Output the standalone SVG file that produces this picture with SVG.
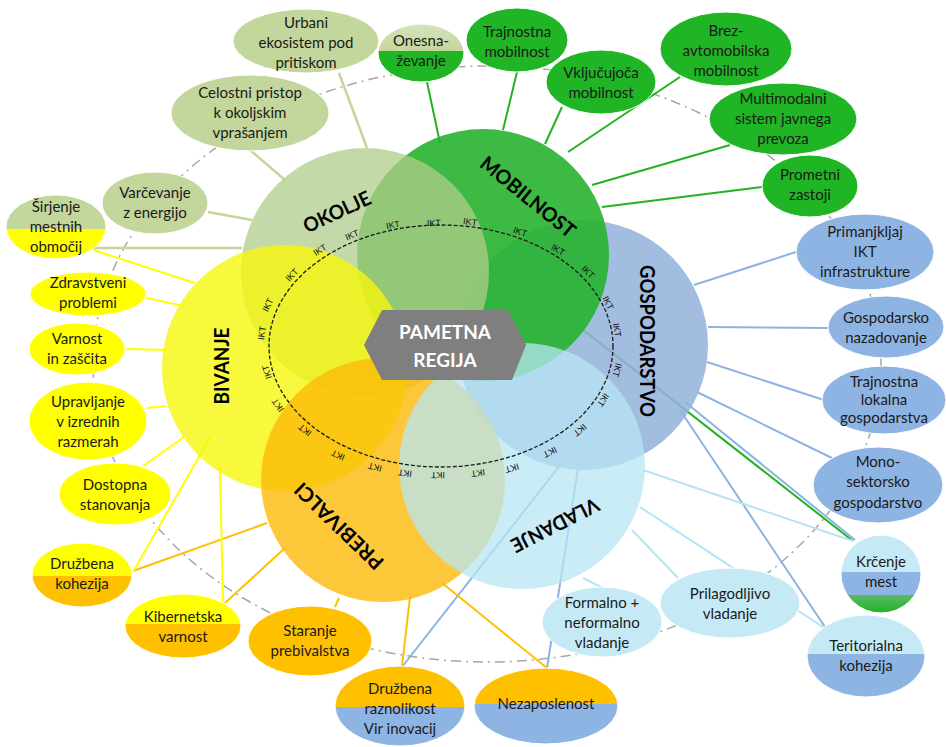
<svg xmlns="http://www.w3.org/2000/svg" width="946" height="747" viewBox="0 0 946 747">
<defs>
<style>
.nt{font-family:Lato,"Liberation Sans",sans-serif;font-size:15px;fill:#1a1a1a;text-anchor:middle}
.big{font-family:Lato,"Liberation Sans",sans-serif;font-size:20px;font-weight:bold;fill:#000;text-anchor:middle}
.ikt{font-family:"Liberation Sans",sans-serif;font-size:9px;fill:#111;text-anchor:middle}
.c-ok{stroke:#c3d69b;stroke-width:2.5;fill:none}
.c-mo{stroke:#22b222;stroke-width:2;fill:none}
.c-go{stroke:#8db3e2;stroke-width:2;fill:none}
.c-vl{stroke:#b7e4f2;stroke-width:2;fill:none}
.c-pr{stroke:#ffc000;stroke-width:2;fill:none}
.c-bi{stroke:#ffff00;stroke-width:2;fill:none}
.nd{stroke:#fff;stroke-width:1}
</style>
<linearGradient id="g-onesna" x1="0" y1="0" x2="0" y2="1"><stop offset="0" stop-color="#d6e4bd"/><stop offset="0.466" stop-color="#c3d69b"/><stop offset="0.466" stop-color="#1fb524"/><stop offset="1" stop-color="#1fb524"/></linearGradient>
<linearGradient id="g-sirjenje" x1="0" y1="0" x2="0" y2="1"><stop offset="0.53" stop-color="#c3d69b"/><stop offset="0.53" stop-color="#ffff00"/></linearGradient>
<linearGradient id="g-krcenje" x1="0" y1="0" x2="0" y2="1"><stop offset="0.474" stop-color="#c5eaf6"/><stop offset="0.474" stop-color="#8eb4e3"/><stop offset="0.77" stop-color="#8eb4e3"/><stop offset="0.77" stop-color="#5cb866"/><stop offset="1" stop-color="#1fb524"/></linearGradient>
<linearGradient id="g-terit" x1="0" y1="0" x2="0" y2="1"><stop offset="0.476" stop-color="#c5eaf6"/><stop offset="0.476" stop-color="#8eb4e3"/></linearGradient>
<linearGradient id="g-nezap" x1="0" y1="0" x2="0" y2="1"><stop offset="0.47" stop-color="#ffc000"/><stop offset="0.47" stop-color="#8eb4e3"/></linearGradient>
<linearGradient id="g-druzrazn" x1="0" y1="0" x2="0" y2="1"><stop offset="0.51" stop-color="#ffc000"/><stop offset="0.51" stop-color="#8eb4e3"/></linearGradient>
<linearGradient id="g-kiber" x1="0" y1="0" x2="0" y2="1"><stop offset="0.47" stop-color="#ffff00"/><stop offset="0.47" stop-color="#ffc000"/></linearGradient>
<linearGradient id="g-druzkoh" x1="0" y1="0" x2="0" y2="1"><stop offset="0.516" stop-color="#ffff00"/><stop offset="0.516" stop-color="#ffc000"/></linearGradient>
</defs>
<rect width="946" height="747" fill="#fff"/>
<ellipse cx="487" cy="364" rx="394" ry="298" fill="none" stroke="#a6a6a6" stroke-width="1.5" stroke-dasharray="10 5 2 5"/>
<g id="connectors">
<line class="c-ok" x1="339" y1="73" x2="367" y2="148"/>
<line class="c-ok" x1="250" y1="150" x2="285" y2="180"/>
<line class="c-ok" x1="208" y1="212" x2="252" y2="220"/>
<line class="c-ok" x1="93" y1="248" x2="242" y2="248"/>
<line class="c-mo" x1="427" y1="82" x2="440" y2="143"/>
<line class="c-mo" x1="517" y1="72" x2="503" y2="130"/>
<line class="c-mo" x1="562" y1="107" x2="545" y2="144"/>
<line class="c-mo" x1="680" y1="77" x2="568" y2="152"/>
<line class="c-mo" x1="730" y1="145" x2="592" y2="185"/>
<line class="c-mo" x1="762" y1="187" x2="602" y2="207"/>
<line class="c-mo" x1="573" y1="322" x2="853" y2="541" stroke-width="1.5"/>
<line class="c-go" x1="796" y1="252" x2="694" y2="285"/>
<line class="c-go" x1="828" y1="328" x2="708" y2="327"/>
<line class="c-go" x1="824" y1="400" x2="707" y2="362"/>
<line class="c-go" x1="832" y1="458" x2="697" y2="392"/>
<line class="c-go" x1="685" y1="402" x2="855" y2="540"/>
<line class="c-go" x1="680" y1="410" x2="825" y2="627"/>
<line class="c-go" x1="580" y1="455" x2="547" y2="668"/>
<line class="c-go" x1="568" y1="455" x2="402" y2="667"/>
<line class="c-vl" x1="643" y1="470" x2="853" y2="541"/>
<line class="c-vl" x1="640" y1="507" x2="823" y2="627"/>
<line class="c-vl" x1="632" y1="530" x2="678" y2="578"/>
<line class="c-vl" x1="583" y1="578" x2="603" y2="588"/>
<line class="c-pr" x1="442" y1="583" x2="547" y2="668"/>
<line class="c-pr" x1="410" y1="597" x2="402" y2="666"/>
<line class="c-pr" x1="339" y1="598" x2="335" y2="607"/>
<line class="c-pr" x1="285" y1="548" x2="225" y2="603"/>
<line class="c-pr" x1="267" y1="523" x2="133" y2="571"/>
<line class="c-bi" x1="93" y1="250" x2="195" y2="283"/>
<line class="c-bi" x1="146" y1="298" x2="184" y2="306"/>
<line class="c-bi" x1="125" y1="349" x2="167" y2="350"/>
<line class="c-bi" x1="147" y1="408" x2="166" y2="406"/>
<line class="c-bi" x1="143" y1="466" x2="184" y2="437"/>
<line class="c-bi" x1="211" y1="436" x2="133" y2="572"/>
<line class="c-bi" x1="220" y1="468" x2="223" y2="603"/>
</g>
<g id="gospodarstvo"><circle cx="583" cy="345" r="125" fill="#92b1d9" fill-opacity="0.85"/></g>
<g id="mobilnost"><circle cx="483" cy="255" r="126" fill="#27b22f" fill-opacity="0.9"/></g>
<g id="okolje"><circle cx="365" cy="272" r="124" fill="#b0cc8b" fill-opacity="0.75"/></g>
<g id="bivanje"><circle cx="285" cy="368" r="123" fill="#f6f60b" fill-opacity="0.8"/></g>
<g id="prebivalci"><circle cx="383" cy="480" r="122" fill="#fbba09" fill-opacity="0.8"/></g>
<g id="vladanje"><circle cx="522" cy="466" r="123" fill="#b7e6f4" fill-opacity="0.75"/></g>
<g id="big-labels">
<text class="big" transform="translate(337,212) rotate(-25)" y="7" textLength="72" lengthAdjust="spacingAndGlyphs">OKOLJE</text>
<text class="big" transform="translate(528,197) rotate(39)" y="7" textLength="116" lengthAdjust="spacingAndGlyphs">MOBILNOST</text>
<text class="big" transform="translate(647,341) rotate(90)" y="7" textLength="152" lengthAdjust="spacingAndGlyphs">GOSPODARSTVO</text>
<text class="big" transform="translate(555,525) rotate(153)" y="7" textLength="96" lengthAdjust="spacingAndGlyphs">VLADANJE</text>
<text class="big" transform="translate(339,526) rotate(224)" y="7" textLength="115" lengthAdjust="spacingAndGlyphs">PREBIVALCI</text>
<text class="big" transform="translate(222,366) rotate(-90)" y="7" textLength="77" lengthAdjust="spacingAndGlyphs">BIVANJE</text>
</g>
<g id="ikt-ring">
<ellipse cx="441" cy="346" rx="172" ry="121" fill="none" stroke="#1a1a1a" stroke-width="1.3" stroke-dasharray="4 2"/>
<text class="ikt" transform="translate(262,333) rotate(-82)" y="3">IKT</text>
<text class="ikt" transform="translate(268,305) rotate(-64)" y="3">IKT</text>
<text class="ikt" transform="translate(292,275) rotate(-46)" y="3">IKT</text>
<text class="ikt" transform="translate(320,250) rotate(-32)" y="3">IKT</text>
<text class="ikt" transform="translate(352,235) rotate(-22)" y="3">IKT</text>
<text class="ikt" transform="translate(393,225) rotate(-11)" y="3">IKT</text>
<text class="ikt" transform="translate(434,223) rotate(-2)" y="3">IKT</text>
<text class="ikt" transform="translate(470,222) rotate(7)" y="3">IKT</text>
<text class="ikt" transform="translate(520,232) rotate(19)" y="3">IKT</text>
<text class="ikt" transform="translate(558,250) rotate(31)" y="3">IKT</text>
<text class="ikt" transform="translate(588,272) rotate(45)" y="3">IKT</text>
<text class="ikt" transform="translate(608,303) rotate(63)" y="3">IKT</text>
<text class="ikt" transform="translate(617,330) rotate(80)" y="3">IKT</text>
<text class="ikt" transform="translate(617,370) rotate(105)" y="3">IKT</text>
<text class="ikt" transform="translate(603,400) rotate(124)" y="3">IKT</text>
<text class="ikt" transform="translate(580,430) rotate(141)" y="3">IKT</text>
<text class="ikt" transform="translate(550,452) rotate(153)" y="3">IKT</text>
<text class="ikt" transform="translate(512,468) rotate(164)" y="3">IKT</text>
<text class="ikt" transform="translate(478,473) rotate(172)" y="3">IKT</text>
<text class="ikt" transform="translate(438,475) rotate(181)" y="3">IKT</text>
<text class="ikt" transform="translate(405,473) rotate(188)" y="3">IKT</text>
<text class="ikt" transform="translate(375,467) rotate(195)" y="3">IKT</text>
<text class="ikt" transform="translate(338,455) rotate(205)" y="3">IKT</text>
<text class="ikt" transform="translate(305,430) rotate(219)" y="3">IKT</text>
<text class="ikt" transform="translate(278,405) rotate(234)" y="3">IKT</text>
<text class="ikt" transform="translate(267,372) rotate(253)" y="3">IKT</text>
</g>
<g id="pametna-regija">
<polygon points="364,345 382,310 508,310 526,345 512,380 382,380" fill="#7f7f7f"/>
<text font-family="Lato,'Liberation Sans',sans-serif" font-size="19" font-weight="bold" fill="#fff" text-anchor="middle"><tspan x="445" y="339">PAMETNA</tspan><tspan x="445" y="367">REGIJA</tspan></text>
</g>
<g id="n-urbani"><ellipse class="nd" cx="306" cy="41" rx="73" ry="32" fill="#c3d69b"/><text class="nt"><tspan x="306" y="28">Urbani</tspan><tspan x="306" y="48">ekosistem pod</tspan><tspan x="306" y="68">pritiskom</tspan></text></g>
<g id="n-onesna"><ellipse class="nd" cx="421" cy="53" rx="43" ry="29" fill="url(#g-onesna)"/><text class="nt"><tspan x="421" y="46">Onesna-</tspan><tspan x="421" y="66">ževanje</tspan></text></g>
<g id="n-celostni"><ellipse class="nd" cx="250" cy="113" rx="79" ry="38" fill="#c3d69b"/><text class="nt"><tspan x="250" y="98">Celostni pristop</tspan><tspan x="250" y="118">k okoljskim</tspan><tspan x="250" y="138">vprašanjem</tspan></text></g>
<g id="n-varcevanje"><ellipse class="nd" cx="155" cy="203" rx="53" ry="31" fill="#c3d69b"/><text class="nt"><tspan x="155" y="198">Varčevanje</tspan><tspan x="155" y="218">z energijo</tspan></text></g>
<g id="n-sirjenje"><ellipse class="nd" cx="56" cy="227" rx="50" ry="32" fill="url(#g-sirjenje)"/><text class="nt"><tspan x="56" y="212">Širjenje</tspan><tspan x="56" y="232">mestnih</tspan><tspan x="56" y="252">območij</tspan></text></g>
<g id="n-trajnostna"><ellipse class="nd" cx="517" cy="40" rx="51" ry="32" fill="#1fb524"/><text class="nt"><tspan x="517" y="37">Trajnostna</tspan><tspan x="517" y="57">mobilnost</tspan></text></g>
<g id="n-vkljucujoca"><ellipse class="nd" cx="601" cy="82" rx="55" ry="32" fill="#1fb524"/><text class="nt"><tspan x="601" y="78">Vključujoča</tspan><tspan x="601" y="98">mobilnost</tspan></text></g>
<g id="n-brez"><ellipse class="nd" cx="726" cy="49" rx="66" ry="37" fill="#1fb524"/><text class="nt"><tspan x="726" y="36">Brez-</tspan><tspan x="726" y="56">avtomobilska</tspan><tspan x="726" y="76">mobilnost</tspan></text></g>
<g id="n-multimodalni"><ellipse class="nd" cx="783" cy="119" rx="74" ry="36" fill="#1fb524"/><text class="nt"><tspan x="783" y="104">Multimodalni</tspan><tspan x="783" y="124">sistem javnega</tspan><tspan x="783" y="144">prevoza</tspan></text></g>
<g id="n-prometni"><ellipse class="nd" cx="810" cy="186" rx="48" ry="31" fill="#1fb524"/><text class="nt"><tspan x="810" y="180">Prometni</tspan><tspan x="810" y="200">zastoji</tspan></text></g>
<g id="n-primanjkljaj"><ellipse class="nd" cx="865" cy="252" rx="69" ry="38" fill="#8eb4e3"/><text class="nt"><tspan x="865" y="237">Primanjkljaj</tspan><tspan x="865" y="257">IKT</tspan><tspan x="865" y="277">infrastrukture</tspan></text></g>
<g id="n-gospodarsko"><ellipse class="nd" cx="886" cy="327" rx="58" ry="31" fill="#8eb4e3"/><text class="nt"><tspan x="886" y="323">Gospodarsko</tspan><tspan x="886" y="343">nazadovanje</tspan></text></g>
<g id="n-trajlok"><ellipse class="nd" cx="884" cy="400" rx="62" ry="34" fill="#8eb4e3"/><text class="nt"><tspan x="884" y="387">Trajnostna</tspan><tspan x="884" y="405">lokalna</tspan><tspan x="884" y="423">gospodarstva</tspan></text></g>
<g id="n-mono"><ellipse class="nd" cx="878" cy="485" rx="65" ry="38" fill="#8eb4e3"/><text class="nt"><tspan x="878" y="467">Mono-</tspan><tspan x="878" y="487">sektorsko</tspan><tspan x="878" y="508">gospodarstvo</tspan></text></g>
<g id="n-krcenje"><ellipse class="nd" cx="881" cy="574" rx="40" ry="39" fill="url(#g-krcenje)"/><text class="nt"><tspan x="881" y="567">Krčenje</tspan><tspan x="881" y="587">mest</tspan></text></g>
<g id="n-teritorialna"><ellipse class="nd" cx="866" cy="656" rx="59" ry="41" fill="url(#g-terit)"/><text class="nt"><tspan x="866" y="651">Teritorialna</tspan><tspan x="866" y="671">kohezija</tspan></text></g>
<g id="n-prilagodljivo"><ellipse class="nd" cx="730" cy="603" rx="70" ry="35" fill="#c5eaf6"/><text class="nt"><tspan x="730" y="599">Prilagodljivo</tspan><tspan x="730" y="619">vladanje</tspan></text></g>
<g id="n-formalno"><ellipse class="nd" cx="602" cy="622" rx="60" ry="35" fill="#c5eaf6"/><text class="nt"><tspan x="602" y="608">Formalno +</tspan><tspan x="602" y="628">neformalno</tspan><tspan x="602" y="648">vladanje</tspan></text></g>
<g id="n-nezaposlenost"><ellipse class="nd" cx="546" cy="706" rx="72" ry="38" fill="url(#g-nezap)"/><text class="nt"><tspan x="546" y="709">Nezaposlenost</tspan></text></g>
<g id="n-druzbena-raznolikost"><ellipse class="nd" cx="400" cy="706" rx="65" ry="40" fill="url(#g-druzrazn)"/><text class="nt"><tspan x="400" y="694">Družbena</tspan><tspan x="400" y="714">raznolikost</tspan><tspan x="400" y="734">Vir inovacij</tspan></text></g>
<g id="n-staranje"><ellipse class="nd" cx="310" cy="641" rx="62" ry="35" fill="#ffc000"/><text class="nt"><tspan x="310" y="636">Staranje</tspan><tspan x="310" y="656">prebivalstva</tspan></text></g>
<g id="n-kibernetska"><ellipse class="nd" cx="183" cy="626" rx="58" ry="32" fill="url(#g-kiber)"/><text class="nt"><tspan x="183" y="622">Kibernetska</tspan><tspan x="183" y="642">varnost</tspan></text></g>
<g id="n-druzbena-kohezija"><ellipse class="nd" cx="82" cy="575" rx="50" ry="32" fill="url(#g-druzkoh)"/><text class="nt"><tspan x="82" y="569">Družbena</tspan><tspan x="82" y="589">kohezija</tspan></text></g>
<g id="n-zdravstveni"><ellipse class="nd" cx="88" cy="294" rx="58" ry="22" fill="#ffff00"/><text class="nt"><tspan x="88" y="288">Zdravstveni</tspan><tspan x="88" y="308">problemi</tspan></text></g>
<g id="n-varnost"><ellipse class="nd" cx="77" cy="349" rx="48" ry="26" fill="#ffff00"/><text class="nt"><tspan x="77" y="344">Varnost</tspan><tspan x="77" y="364">in zaščita</tspan></text></g>
<g id="n-upravljanje"><ellipse class="nd" cx="88" cy="421" rx="59" ry="39" fill="#ffff00"/><text class="nt"><tspan x="88" y="407">Upravljanje</tspan><tspan x="88" y="427">v izrednih</tspan><tspan x="88" y="447">razmerah</tspan></text></g>
<g id="n-dostopna"><ellipse class="nd" cx="115" cy="494" rx="56" ry="31" fill="#ffff00"/><text class="nt"><tspan x="115" y="490">Dostopna</tspan><tspan x="115" y="510">stanovanja</tspan></text></g>
</svg>
